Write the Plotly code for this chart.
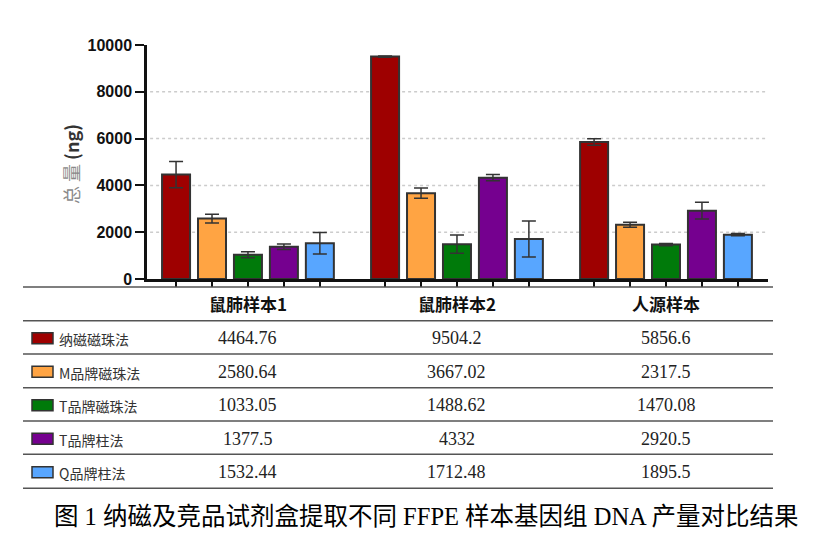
import plotly.graph_objects as go

# Data
samples = ["鼠肺样本1", "鼠肺样本2", "人源样本"]
methods = ["纳磁磁珠法", "M品牌磁珠法", "T品牌磁珠法", "T品牌柱法", "Q品牌柱法"]
colors = ["#9E0000", "#FFA443", "#007A0A", "#75008F", "#58A6FF"]

# mean yield (ng) per method, one value per sample
yield_nacl = [4464.76, 9504.2, 5856.6]
yield_m_bead = [2580.64, 3667.02, 2317.5]
yield_t_bead = [1033.05, 1488.62, 1470.08]
yield_t_col = [1377.5, 4332, 2920.5]
yield_q_col = [1532.44, 1712.48, 1895.5]

# error bars
err_nacl = [560, 25, 140]
err_m_bead = [190, 220, 110]
err_t_bead = [130, 390, 50]
err_t_col = [115, 130, 360]
err_q_col = [460, 770, 50]

yields = [yield_nacl, yield_m_bead, yield_t_bead, yield_t_col, yield_q_col]
errors = [err_nacl, err_m_bead, err_t_bead, err_t_col, err_q_col]

y_ticks = [0, 2000, 4000, 6000, 8000, 10000]
grid_vals = [2000, 4000, 6000, 8000]

# Layout geometry (pixels, page has an 8px body margin)
OFF = 8
W, H = 825 - 2 * OFF, 541 - 2 * OFF
L, T = 147 - OFF, 45 - OFF
R = W - (768 - OFF)
B = H - (279 - OFF)
PW, PH = W - L - R, H - T - B


def px_x(px):
    # reference pixel -> paper x
    return (px - OFF - L) / PW


def px_y(py):
    # reference pixel -> paper y
    return (H - B - (py - OFF)) / PH


slot = 0.172
bar_w = 0.134
font_cjk = "Noto Sans CJK SC, Liberation Sans, sans-serif"
font_serif = "Liberation Serif, Noto Sans CJK SC, serif"

fig = go.Figure()

tick_pos = []
for i, (name, vals, errs) in enumerate(zip(methods, yields, errors)):
    xs = [g + (i - 2) * slot for g in range(len(samples))]
    tick_pos += xs
    fig.add_trace(
        go.Bar(
            x=xs,
            y=vals,
            width=bar_w,
            name=name,
            marker=dict(color=colors[i], line=dict(color="#333333", width=2)),
            error_y=dict(type="data", array=errs, color="#333333", thickness=1.5, width=7),
            showlegend=False,
        )
    )

# dotted grid lines
for v in grid_vals:
    fig.add_shape(type="line", xref="paper", yref="y", x0=0.005, x1=1, y0=v, y1=v,
                  line=dict(color="#CCCCCC", width=1.5, dash="dot"), layer="below")

# table lines
table_lines = [287, 320.7, 354, 387.7, 421, 454.3, 488.3]
for py in table_lines:
    fig.add_shape(type="line", xref="paper", yref="paper", x0=px_x(23), x1=px_x(773),
                  y0=px_y(py), y1=px_y(py), line=dict(color="#555555", width=1.5))

# table header
for g, s in enumerate(samples):
    fig.add_annotation(x=g, y=px_y(303), xref="x", yref="paper", text=s,
                       xanchor="center", yanchor="middle", showarrow=False,
                       font=dict(family=font_cjk, size=17, color="#111111", weight="bold"))

# table rows
for i, (name, vals) in enumerate(zip(methods, yields)):
    cy = (table_lines[i + 1] + table_lines[i + 2]) / 2 + 1
    fig.add_shape(type="rect", xref="paper", yref="paper", x0=px_x(32), x1=px_x(53),
                  y0=px_y(cy - 5.5), y1=px_y(cy + 5.5),
                  fillcolor=colors[i], line=dict(color="#333333", width=1.5))
    fig.add_annotation(x=px_x(57), y=px_y(cy + 1), xref="paper", yref="paper", text=name,
                       xanchor="left", yanchor="middle", showarrow=False,
                       font=dict(family=font_cjk, size=14, color="#333333"))
    for g, v in enumerate(vals):
        fig.add_annotation(x=g, y=px_y(cy), xref="x", yref="paper", text=str(v),
                           xanchor="center", yanchor="middle", showarrow=False,
                           font=dict(family=font_serif, size=18, color="#222222"))

# y axis title
fig.add_annotation(x=px_x(71), y=px_y(164), xref="paper", yref="paper",
                   text="<span style='color:#8A8A8A'>总 量</span> <b>(ng)</b>",
                   xanchor="center", yanchor="middle", textangle=-90, showarrow=False,
                   font=dict(family=font_cjk, size=18, color="#333333"))

# caption
fig.add_annotation(x=px_x(426), y=px_y(516), xref="paper", yref="paper",
                   text="图 1 纳磁及竞品试剂盒提取不同 FFPE 样本基因组 DNA 产量对比结果",
                   xanchor="center", yanchor="middle", showarrow=False,
                   font=dict(family=font_serif, size=24.5, color="#000000"))

fig.update_layout(
    width=W,
    height=H,
    margin=dict(l=L, r=R, t=T, b=B, pad=0),
    plot_bgcolor="white",
    paper_bgcolor="white",
    barmode="overlay",
    xaxis=dict(
        range=[-0.483, 2.488],
        tickvals=tick_pos,
        ticktext=[""] * len(tick_pos),
        ticks="outside",
        ticklen=5,
        tickwidth=1.5,
        tickcolor="#111111",
        showline=True,
        linecolor="#111111",
        linewidth=2.5,
        showgrid=False,
        zeroline=False,
    ),
    yaxis=dict(
        range=[0, 10000],
        tickvals=y_ticks,
        tickformat="d",
        ticks="outside",
        ticklen=9,
        tickwidth=2,
        tickcolor="#111111",
        showline=True,
        linecolor="#111111",
        linewidth=2.5,
        showgrid=False,
        zeroline=False,
        tickfont=dict(family="Liberation Sans, Arial, sans-serif", size=16, color="#111111", weight="bold"),
    ),
)

fig.write_html("out.html")
